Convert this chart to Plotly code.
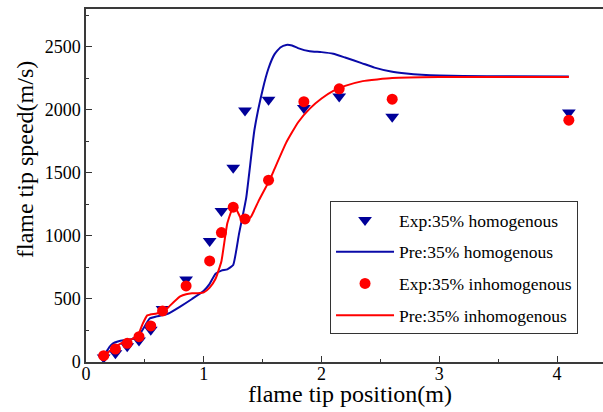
import plotly.graph_objects as go

# Experimental data
exp_x = [0.15, 0.25, 0.35, 0.45, 0.55, 0.65, 0.85, 1.05, 1.15, 1.25, 1.35, 1.55, 1.85, 2.15, 2.6, 4.1]
exp_homo = [35, 70, 125, 170, 255, 420, 655, 960, 1198, 1540, 1995, 2080, 2015, 2105, 1945, 1980]
exp_inhomo = [50, 103, 148, 201, 286, 405, 603, 802, 1027, 1228, 1135, 1442, 2065, 2167, 2085, 1918]

# Predicted curves
pre_homo_x = [0.14, 0.17, 0.20, 0.23, 0.27, 0.32, 0.37, 0.42, 0.46, 0.50, 0.54, 0.60, 0.65, 0.70, 0.80,
              0.90, 1.00, 1.05, 1.10, 1.15, 1.20, 1.25, 1.30, 1.36, 1.43, 1.50, 1.55, 1.60, 1.65,
              1.70, 1.75, 1.80, 1.90, 2.00, 2.10, 2.20, 2.34, 2.45, 2.59, 2.72, 2.85, 3.00, 3.20,
              3.60, 4.10]
pre_homo_y = [25, 75, 120, 148, 162, 172, 178, 190, 225, 285, 345, 362, 372, 385, 440,
              500, 565, 620, 700, 725, 735, 770, 1020, 1300, 1840, 2160, 2330, 2440, 2495,
              2515, 2510, 2490, 2465, 2458, 2445, 2415, 2371, 2335, 2304, 2288, 2278, 2272, 2268,
              2266, 2265]

pre_inhomo_x = [0.13, 0.20, 0.25, 0.30, 0.35, 0.40, 0.45, 0.48, 0.52, 0.55, 0.60, 0.65, 0.70,
                0.75, 0.80, 0.85, 0.90, 0.95, 1.00, 1.05, 1.10, 1.15, 1.20, 1.25, 1.28, 1.32,
                1.36, 1.40, 1.47, 1.56, 1.60, 1.70, 1.80, 1.90, 2.00, 2.10, 2.20, 2.35, 2.60,
                3.00, 3.50, 4.10]
pre_inhomo_y = [30, 85, 120, 150, 170, 185, 230, 300, 370, 378, 385, 400, 435,
                480, 520, 538, 545, 546, 552, 590, 660, 800, 1100, 1230, 1205, 1130,
                1115, 1150, 1286, 1445, 1530, 1740, 1900, 2010, 2090, 2150, 2190, 2228, 2252,
                2260, 2260, 2260]

font_family = "Liberation Serif, Times New Roman, serif"
blue_m = "#000099"
blue_l = "#0a0aa8"
red = "#ff0000"

fig = go.Figure()
fig.add_trace(go.Scatter(x=exp_x, y=exp_homo, mode="markers", name="Exp:35% homogenous",
                         legendgroup="a",
                         marker=dict(symbol="triangle-down", size=12, color=blue_m)))
fig.add_trace(go.Scatter(x=pre_homo_x, y=pre_homo_y, mode="lines", name="Pre:35% homogenous",
                         legendgroup="b", line=dict(color=blue_l, width=2, shape="spline", smoothing=0.4)))
fig.add_trace(go.Scatter(x=exp_x, y=exp_inhomo, mode="markers", name="Exp:35% inhomogenous",
                         legendgroup="c",
                         marker=dict(symbol="circle", size=11, color=red)))
fig.add_trace(go.Scatter(x=pre_inhomo_x, y=pre_inhomo_y, mode="lines", name="Pre:35% inhomogenous",
                         legendgroup="d", line=dict(color=red, width=2, shape="spline", smoothing=0.4)))

fig.update_layout(
    width=603, height=412,
    margin=dict(l=86, r=0, t=9, b=50),
    paper_bgcolor="white", plot_bgcolor="white",
    font=dict(family=font_family, size=18, color="black"),
    showlegend=True,
    legend=dict(x=0.472, y=0.456, xanchor="left", yanchor="top",
                bordercolor="#333333", borderwidth=1, bgcolor="white",
                font=dict(family=font_family, size=17.5, color="black"),
                tracegroupgap=6, itemwidth=58),
    xaxis=dict(range=[0, 4.39], tickvals=[0, 1, 2, 3, 4], ticktext=["0", "1", "2", "3", "4"],
               ticks="inside", ticklen=6, tickwidth=1, tickcolor="#333333",
               minor=dict(ticks="inside", dtick=0.5, ticklen=3, tickcolor="#333333"),
               showline=True, linecolor="#3a3a3a", linewidth=2, mirror=True,
               showgrid=False, zeroline=False, ticklabelstandoff=-6,
               tickfont=dict(family=font_family, size=18, color="black")),
    yaxis=dict(range=[0, 2800], tickvals=[0, 500, 1000, 1500, 2000, 2500],
               ticks="inside", ticklen=6, tickwidth=1, tickcolor="#333333",
               minor=dict(ticks="inside", dtick=250, ticklen=3, tickcolor="#333333"),
               showline=True, linecolor="#3a3a3a", linewidth=1.5, mirror=False,
               showgrid=False, zeroline=False,
               tickfont=dict(family=font_family, size=18, color="black")),
)

fig.add_annotation(text="flame tip speed(m/s)", xref="paper", yref="paper",
                   x=-0.118, y=0.575, textangle=-90, showarrow=False,
                   xanchor="center", yanchor="middle",
                   font=dict(family=font_family, size=24, color="black"))
fig.add_annotation(text="flame tip position(m)", xref="paper", yref="paper",
                   x=0.511, y=-0.09, showarrow=False,
                   xanchor="center", yanchor="middle",
                   font=dict(family=font_family, size=24, color="black"))

fig.write_html("out.html")
